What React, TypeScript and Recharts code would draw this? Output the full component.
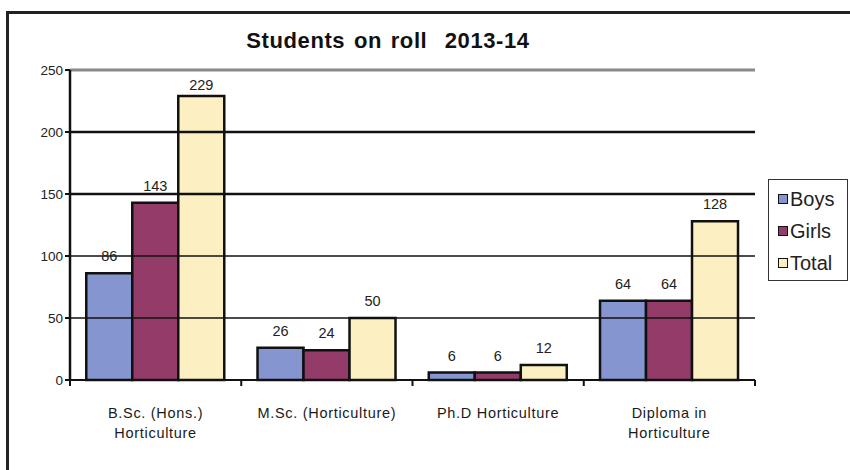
import React from "react";
import { BarChart, Bar, XAxis, YAxis, ReferenceLine, LabelList } from "recharts";

const categories = ["B.Sc. (Hons.)|Horticulture", "M.Sc. (Horticulture)", "Ph.D Horticulture", "Diploma in|Horticulture"];
const boys = [86, 26, 6, 64];
const girls = [143, 24, 6, 64];
const total = [229, 50, 12, 128];
const yTicks = [0, 50, 100, 150, 200, 250];
const seriesNames = ["Boys", "Girls", "Total"];
const colors = ["#8595cf", "#933c6a", "#fcf0c2"];

const data = categories.map((c, i) => ({ name: c, Boys: boys[i], Girls: girls[i], Total: total[i] }));

const FONT = "'Liberation Sans', Arial, sans-serif";

const XTick = (props: any) => {
  const { x, y, payload, index } = props;
  const half = payload && payload.offset ? payload.offset : 85.6;
  const lines = String(payload.value).split("|");
  return (
    <g>
      <line x1={x - half} x2={x - half} y1={y - 8} y2={y - 2} stroke="#111" strokeWidth={2} />
      {index === categories.length - 1 && (
        <line x1={x + half} x2={x + half} y1={y - 8} y2={y - 2} stroke="#111" strokeWidth={2} />
      )}
      {lines.map((l, i) => (
        <text
          key={i}
          x={x}
          y={y + 30 + i * 20}
          textAnchor="middle"
          fontFamily={FONT}
          fontSize={14.5}
          letterSpacing={0.7}
          fill="#1a1a1a"
        >
          {l}
        </text>
      ))}
    </g>
  );
};

const ValueLabel = (props: any) => {
  const { x, y, width, value } = props;
  const baseline = Math.max(Number(y) - 12, 90);
  return (
    <text x={Number(x) + Number(width) / 2} y={baseline} textAnchor="middle" fontFamily={FONT} fontSize={14.5} fill="#222">
      {value}
    </text>
  );
};

const LegendBox = () => (
  <div
    style={{
      position: "absolute",
      left: 768,
      top: 179,
      width: 80,
      height: 102,
      border: "1.5px solid #333",
      background: "#fff",
      fontFamily: FONT,
      fontSize: 20,
      color: "#222",
      paddingTop: 3,
      boxSizing: "border-box",
    }}
  >
    {seriesNames.map((n, i) => (
      <div key={n} style={{ display: "flex", alignItems: "center", height: 32, paddingLeft: 9 }}>
        <span
          style={{
            display: "inline-block",
            width: 8,
            height: 8,
            border: "1.5px solid #111",
            background: colors[i],
            marginRight: 2,
          }}
        />
        <span>{n}</span>
      </div>
    ))}
  </div>
);

export default function App() {
  return (
    <div style={{ position: "absolute", left: 0, top: 0, width: 850, height: 470, background: "#fff", overflow: "hidden" }}>
      <div
        style={{
          position: "absolute",
          left: 6,
          top: 11,
          width: 870,
          height: 480,
          border: "3px solid #222",
          boxSizing: "border-box",
        }}
      />
      <div
        style={{
          position: "absolute",
          left: 0,
          top: 28,
          width: 776,
          textAlign: "center",
          fontFamily: FONT,
          fontWeight: "bold",
          fontSize: 22,
          letterSpacing: 0.6,
          color: "#111",
          wordSpacing: 2,
        }}
      >
        Students on roll &nbsp;2013-14
      </div>
      <div style={{ position: "absolute", left: 0, top: 0 }}>
        <BarChart
          width={850}
          height={470}
          data={data}
          margin={{ top: 70, right: 95, left: 10, bottom: 0 }}
          barCategoryGap="9.5%"
          barGap={0}
        >
          {yTicks
            .filter((t) => t > 0 && t < 250)
            .map((t) => (
              <ReferenceLine key={t} y={t} stroke="#111" strokeWidth={t >= 150 ? 2.5 : 1.5} />
            ))}
          <ReferenceLine y={250} stroke="#8a8a8a" strokeWidth={3} />
          <XAxis
            dataKey="name"
            axisLine={{ stroke: "#111", strokeWidth: 2 }}
            tickLine={false}
            tick={<XTick />}
            interval={0}
            height={90}
          />
          <YAxis
            domain={[0, 250]}
            ticks={yTicks}
            width={60}
            axisLine={{ stroke: "#111", strokeWidth: 2.5 }}
            tickLine={{ stroke: "#111", strokeWidth: 2 }}
            tickSize={5}
            tick={{ fontFamily: FONT, fontSize: 13.5, fill: "#222" }}
          />
          <YAxis
            yAxisId="frame"
            orientation="right"
            width={0}
            tick={false}
            tickLine={false}
            axisLine={{ stroke: "#8a8a8a", strokeWidth: 2 }}
          />
          {seriesNames.map((n, i) => (
            <Bar key={n} dataKey={n} fill={colors[i]} stroke="#111" strokeWidth={2.5} isAnimationActive={false}>
              <LabelList dataKey={n} content={<ValueLabel />} />
            </Bar>
          ))}
        </BarChart>
      </div>
      <LegendBox />
    </div>
  );
}
